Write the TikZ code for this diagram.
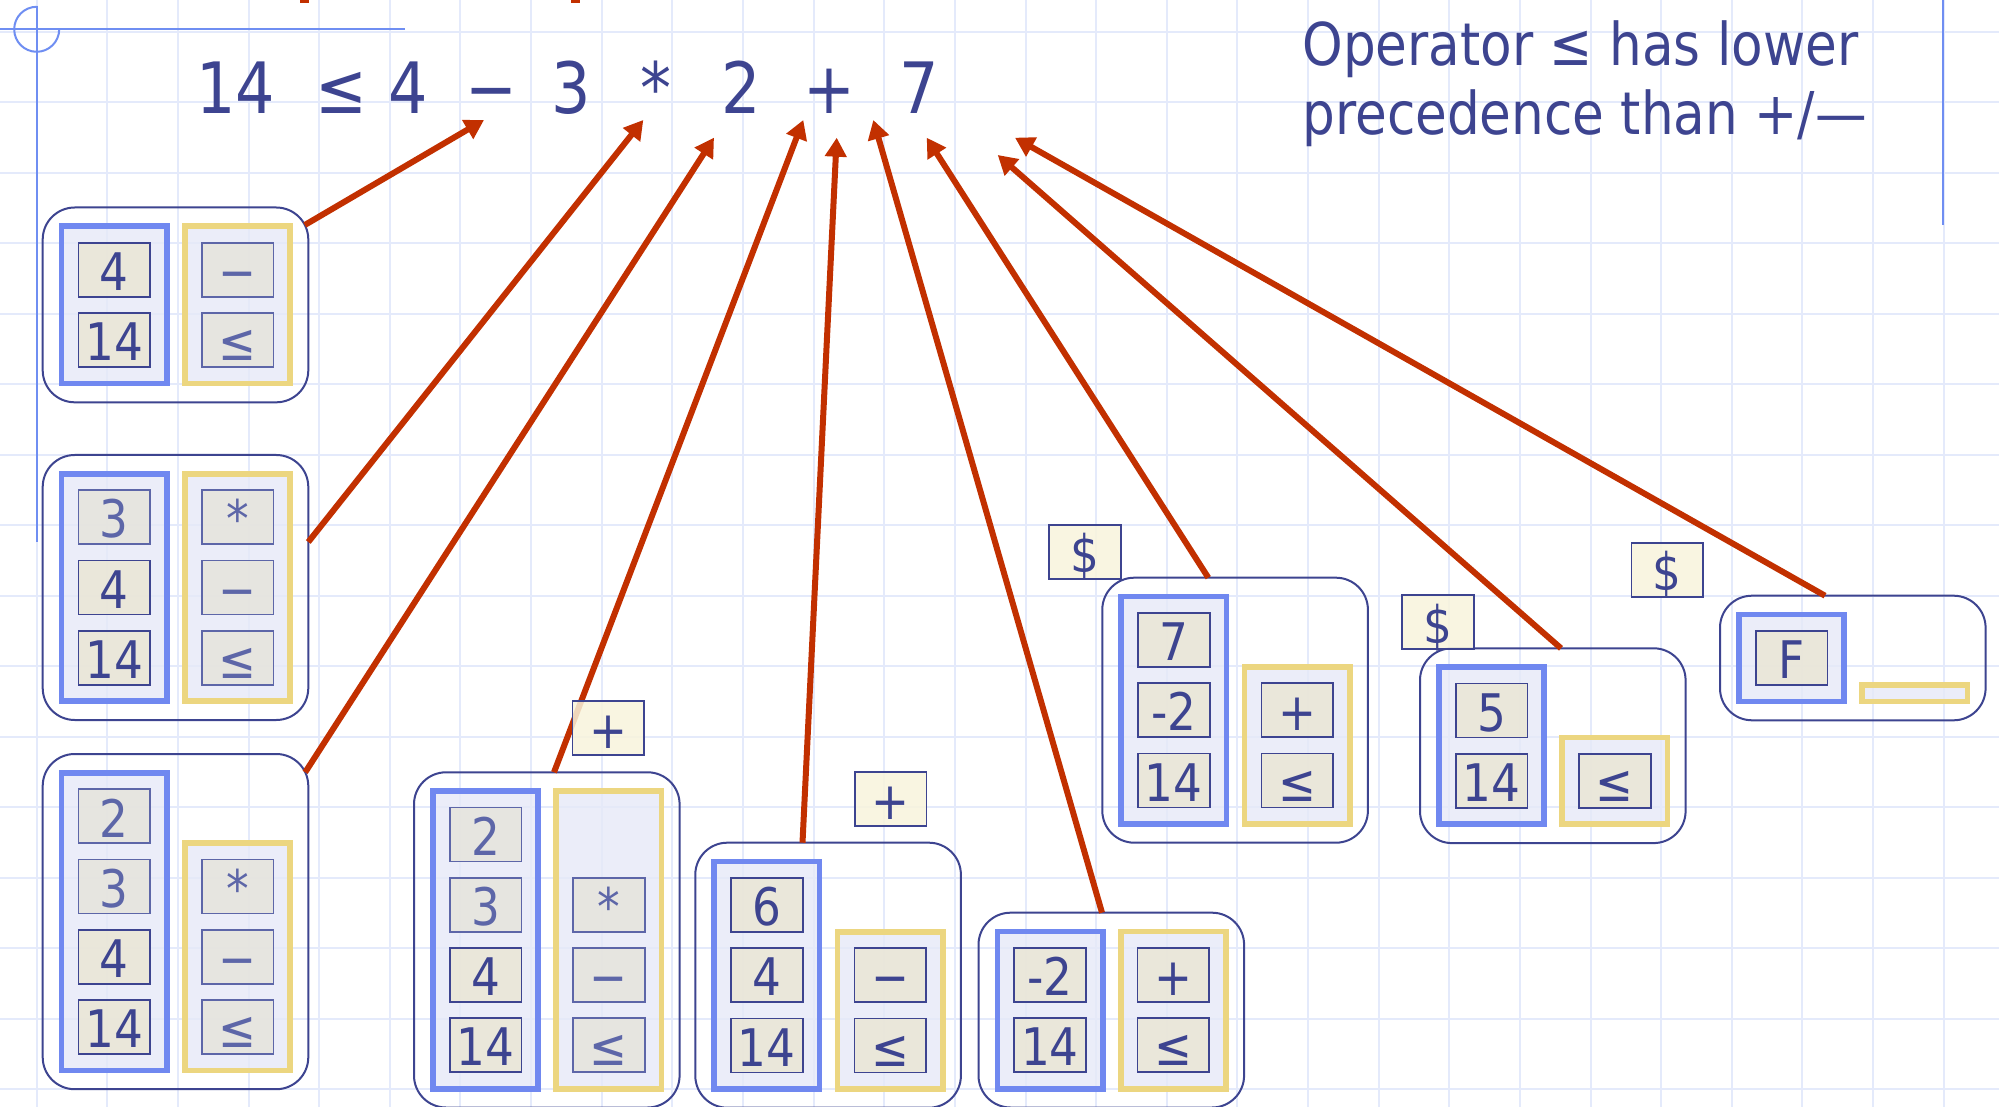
\documentclass[tikz,border=0pt]{standalone}
\usepackage{fontspec}
\setmainfont{DejaVu Sans}[FakeStretch=0.875]
\usetikzlibrary{arrows.meta,calc}
\definecolor{gridc}{HTML}{E4EAFB}
\definecolor{decoc}{HTML}{6F8EF2}
\definecolor{navy}{HTML}{3D4490}
\definecolor{fadec}{HTML}{5D66A8}
\definecolor{bluec}{HTML}{7088F0}
\definecolor{yelc}{HTML}{ECD680}
\definecolor{colfill}{HTML}{E6E9F8}
\definecolor{cellfill}{HTML}{EAE6D5}
\definecolor{cellfilltwo}{HTML}{E6E4DC}
\definecolor{ycellfill}{HTML}{F8F4DC}
\definecolor{redc}{HTML}{C23000}
\newcommand\cfnt{\fontsize{25.9pt}{30pt}\selectfont}
\newcommand\efnt{\fontsize{35.4pt}{40pt}\selectfont}
\newcommand\nfnt{\fontsize{29.5pt}{34.65pt}\selectfont}
\newcommand\colrect[5]{\draw[#1] ({#2+2.85},{#3+2.85}) rectangle ({#4-2.85},{#5-2.85});}
\begin{document}
\begin{tikzpicture}[x=0.5pt,y=-0.5pt,
  gridl/.style={draw=gridc, line width=1pt},
  decor/.style={draw=decoc, line width=1pt},
  stackbox/.style={draw=navy, line width=1pt, rounded corners=16pt, inner sep=0pt, outer sep=0pt, minimum width=132.8pt},
  bluecol/.style={draw=bluec, line width=2.85pt, fill=colfill, fill opacity=0.8},
  yelcol/.style={draw=yelc, line width=2.85pt, fill=colfill, fill opacity=0.8},
  cellbase/.style={line width=0.85pt, minimum width=35.85pt, minimum height=27pt, inner sep=0pt, outer sep=0pt, text height=23.85pt, text depth=3.15pt, font=\cfnt, text opacity=1},
  vcell/.style={cellbase, draw=navy, fill=cellfill, fill opacity=0.85, text=navy},
  fcell/.style={cellbase, draw=fadec, fill=cellfilltwo, fill opacity=0.85, text=fadec},
  ycell/.style={cellbase, draw=navy, fill=ycellfill, fill opacity=0.85, text=navy},
  eqtok/.style={anchor=base, inner sep=0pt, text=navy, font=\efnt},
  notetext/.style={anchor=base west, inner sep=0pt, text=navy, font=\nfnt},
  redarrow/.style={draw=redc, line width=3pt, -{Triangle[length=9.5pt,width=10.5pt]}},
]
\useasboundingbox (0,0) rectangle (1999,1107);
\clip (0,0) rectangle (1999,1107);
\fill[white] (0,0) rectangle (1999,1107);
% grid
\foreach \k in {0,...,27} \draw[gridl] ({36.7+70.63*\k},0) -- ({36.7+70.63*\k},1107);
\foreach \k in {0,...,15} \draw[gridl] (0,{31.7+70.5*\k}) -- (1999,{31.7+70.5*\k});
% decoration
\draw[decor] (0,29.3) -- (405,29.3);
\draw[decor] (36.7,5.7) -- (36.7,542);
\draw[decor] (36.7,6.8) arc[start angle=90,end angle=360,radius=11.25pt];
\draw[decor] (1943,0) -- (1943,225);
\fill[redc] (300,0) rectangle (309,3);
\fill[redc] (571,0) rectangle (580,3);
% expression
\node[eqtok] (e1) at (235.5,113.3) {14};
\node[eqtok] (e2) at (341.7,113.3) {≤};
\node[eqtok] (e3) at (408.3,113.3) {4};
\node[eqtok] (e4) at (491.3,113.3) {−};
\node[eqtok] (e5) at (570.8,113.3) {3};
\node[eqtok] (e6) at (655.5,113.3) {*};
\node[eqtok] (e7) at (741,113.3) {2};
\node[eqtok] (e8) at (829.5,113.3) {+};
\node[eqtok] (e9) at (919,113.3) {7};
\node[notetext] (n1) at (1302,65.7) {Operator ≤ has lower};
\node[notetext] (n2) at (1302,135) {precedence than +/—};
% arrow targets
\coordinate (t1) at (484,120);
\coordinate (t2) at (643.3,120);
\coordinate (t3) at (714,137.7);
\coordinate (t4) at (803.3,120);
\coordinate (t5) at (836.7,137.7);
\coordinate (t6) at (873.3,120);
\coordinate (t7) at (926.7,137.7);
\coordinate (t8) at (997.7,155);
\coordinate (t9) at (1015,137.7);
% columns
\colrect{bluecol}{58.7}{223.5}{169.7}{386.3}
\colrect{yelcol}{182.1}{223.5}{293.1}{386.3}
\colrect{bluecol}{58.7}{471}{169.7}{704}
\colrect{yelcol}{182.1}{471}{293.1}{704}
\colrect{bluecol}{58.7}{770}{169.7}{1073.2}
\colrect{yelcol}{182.1}{840.2}{293.1}{1073.2}
\colrect{bluecol}{430}{788.3}{541}{1091.5}
\colrect{yelcol}{553.4}{788.3}{664.4}{1091.5}
\colrect{bluecol}{711.3}{858.7}{822.3}{1091.7}
\colrect{yelcol}{834.7}{928.9}{945.7}{1091.7}
\colrect{bluecol}{994.5}{928.7}{1105.5}{1091.5}
\colrect{yelcol}{1117.9}{928.7}{1228.9}{1091.5}
\colrect{bluecol}{1118.3}{593.7}{1229.3}{826.7}
\colrect{yelcol}{1241.7}{663.9}{1352.7}{826.7}
\colrect{bluecol}{1436}{664.3}{1547}{827.1}
\colrect{yelcol}{1559.4}{734.5}{1670.4}{827.1}
\colrect{bluecol}{1736}{611.7}{1847}{704.3}
\colrect{yelcol}{1859.4}{681.9}{1970.4}{704.3}
% box 1
\node[vcell] (c1v1) at (114.2,269.8) {4};
\node[vcell] (c1v2) at (114.2,340) {14};
\node[fcell] (c1o1) at (237.6,269.8) {−};
\node[fcell] (c1o2) at (237.6,340) {≤};
% box 2
\node[fcell] (c2v1) at (114.2,517.3) {3};
\node[vcell] (c2v2) at (114.2,587.5) {4};
\node[vcell] (c2v3) at (114.2,657.7) {14};
\node[fcell] (c2o1) at (237.6,517.3) {*};
\node[fcell] (c2o2) at (237.6,587.5) {−};
\node[fcell] (c2o3) at (237.6,657.7) {≤};
% box 3
\node[fcell] (c3v1) at (114.2,816.3) {2};
\node[fcell] (c3v2) at (114.2,886.5) {3};
\node[vcell] (c3v3) at (114.2,956.7) {4};
\node[vcell] (c3v4) at (114.2,1026.9) {14};
\node[fcell] (c3o1) at (237.6,886.5) {*};
\node[fcell] (c3o2) at (237.6,956.7) {−};
\node[fcell] (c3o3) at (237.6,1026.9) {≤};
% box 4
\node[fcell] (c4v1) at (485.5,834.6) {2};
\node[fcell] (c4v2) at (485.5,904.8) {3};
\node[vcell] (c4v3) at (485.5,975) {4};
\node[vcell] (c4v4) at (485.5,1045.2) {14};
\node[fcell] (c4o1) at (608.9,904.8) {*};
\node[fcell] (c4o2) at (608.9,975) {−};
\node[fcell] (c4o3) at (608.9,1045.2) {≤};
% box 5
\node[vcell] (c5v1) at (766.8,905) {6};
\node[vcell] (c5v2) at (766.8,975.2) {4};
\node[vcell] (c5v3) at (766.8,1045.4) {14};
\node[vcell] (c5o1) at (890.2,975.2) {−};
\node[vcell] (c5o2) at (890.2,1045.4) {≤};
% box 6
\node[vcell] (c6v1) at (1050,975) {-2};
\node[vcell] (c6v2) at (1050,1045.2) {14};
\node[vcell] (c6o1) at (1173.4,975) {+};
\node[vcell] (c6o2) at (1173.4,1045.2) {≤};
% box 7
\node[vcell] (c7v1) at (1173.8,640) {7};
\node[vcell] (c7v2) at (1173.8,710.2) {-2};
\node[vcell] (c7v3) at (1173.8,780.4) {14};
\node[vcell] (c7o1) at (1297.2,710.2) {+};
\node[vcell] (c7o2) at (1297.2,780.4) {≤};
% box 8
\node[vcell] (c8v1) at (1491.5,710.6) {5};
\node[vcell] (c8v2) at (1491.5,780.8) {14};
\node[vcell] (c8o1) at (1614.9,780.8) {≤};
% box 9
\node[vcell] (c9v1) at (1791.5,658) {F};
% outer boxes
\node[stackbox, minimum height=97.4pt] (b1) at (175.5,304.9) {};
\node[stackbox, minimum height=132.5pt] (b2) at (175.5,587.5) {};
\node[stackbox, minimum height=167.6pt] (b3) at (175.5,921.6) {};
\node[stackbox, minimum height=167.6pt] (b4) at (546.8,939.9) {};
\node[stackbox, minimum height=132.5pt] (b5) at (828.1,975.2) {};
\node[stackbox, minimum height=97.4pt] (b6) at (1111.3,1010.1) {};
\node[stackbox, minimum height=132.5pt] (b7) at (1235.1,710.2) {};
\node[stackbox, minimum height=97.4pt] (b8) at (1552.8,745.7) {};
\node[stackbox, minimum height=62.3pt] (b9) at (1852.8,658) {};
% arrows
\draw[redarrow] ($(b1.north east)+(-3.5,17.5)$) -- (t1);
\draw[redarrow] ($(b2.north east)+(0,87)$) -- (t2);
\draw[redarrow] ($(b3.north east)+(-3.1,18.3)$) -- (t3);
\draw[redarrow] ($(b4.north west)+(140,0)$) -- (t4);
\draw[redarrow] ($(b5.north west)+(107.2,0)$) -- (t5);
\draw[redarrow] ($(b6.north west)+(123.5,0)$) -- (t6);
\draw[redarrow] ($(b7.north west)+(106,0)$) -- (t7);
\draw[redarrow] ($(b8.north west)+(141,0)$) -- (t8);
\draw[redarrow] ($(b9.north west)+(105,0)$) -- (t9);
% incoming tokens
\node[ycell] (p1) at (608.2,728) {+};
\node[ycell] (p2) at (890.5,798.7) {+};
\node[ycell] (d1) at (1084.9,551.7) {\$};
\node[ycell] (d2) at (1437.8,622.3) {\$};
\node[ycell] (d3) at (1667.2,569.7) {\$};
\end{tikzpicture}
\end{document}
